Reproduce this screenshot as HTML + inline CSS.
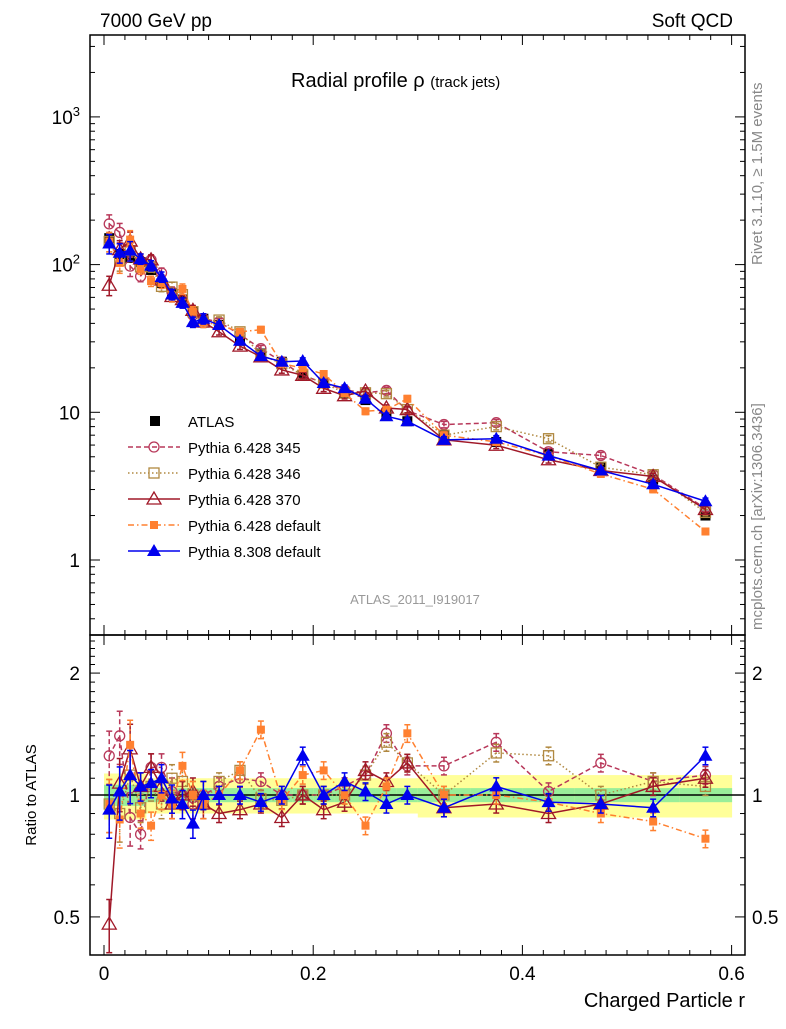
<!DOCTYPE html>
<html><head><meta charset="utf-8"><style>
body{margin:0;background:#fff;}
svg text{font-family:"Liberation Sans",sans-serif;}
</style></head><body>
<svg id="chart" width="786" height="1024" viewBox="0 0 786 1024" xmlns="http://www.w3.org/2000/svg">
<text x="100" y="27" font-size="19">7000 GeV pp</text>
<text x="733" y="27" font-size="19" text-anchor="end">Soft QCD</text>
<text x="291" y="87" font-size="20">Radial profile ρ <tspan font-size="15">(track jets)</tspan></text>
<text transform="translate(762,265) rotate(-90)" font-size="15" fill="#888">Rivet 3.1.10, ≥ 1.5M events</text>
<text transform="translate(762,630) rotate(-90)" font-size="15" fill="#888">mcplots.cern.ch [arXiv:1306.3436]</text>
<text x="415" y="604" font-size="13" fill="#999" text-anchor="middle">ATLAS_2011_I919017</text>
<text transform="translate(36,795) rotate(-90)" font-size="15" text-anchor="middle">Ratio to ATLAS</text>
<text x="745" y="1007" font-size="20" text-anchor="end">Charged Particle r</text>
<g id="g"></g>
</svg>
<script>
const xs=[0.005,0.015,0.025,0.035,0.045,0.055,0.065,0.075,0.085,0.095,0.11,0.13,0.15,0.17,0.19,0.21,0.23,0.25,0.27,0.29,0.325,0.375,0.425,0.475,0.525,0.575];
const atlas=[151,118,111,104,92,75,64,58,48,43,39,30.5,25,22,17.8,15.8,13.5,12.1,9.9,8.7,7.0,6.3,5.3,4.25,3.5,2.0];
const r345=[1.25,1.40,0.88,0.80,1.17,1.17,1.02,1.0,0.95,1.0,1.05,1.1,1.08,1.0,1.0,1.0,1.05,1.12,1.42,1.18,1.18,1.35,1.02,1.2,1.08,1.12];
const r346=[0.95,0.9,1.12,0.93,1.05,0.95,1.1,1.08,1.0,0.95,1.08,1.15,0.98,0.97,1.0,1.0,1.0,1.12,1.35,1.2,1.0,1.27,1.25,1.0,1.08,1.05];
const r370=[0.48,1.07,1.3,1.05,1.17,1.05,0.95,1.0,1.02,0.95,0.9,0.92,0.95,0.88,1.0,0.92,0.96,1.15,1.08,1.2,0.93,0.95,0.9,0.95,1.05,1.1];
const rdef6=[0.95,0.87,1.33,0.9,0.84,1.0,0.95,1.18,1.0,0.95,1.0,1.15,1.45,0.97,1.12,1.15,1.0,0.84,1.05,1.42,1.0,1.0,0.96,0.9,0.86,0.78];
const rpy8=[0.92,1.02,1.12,1.05,1.07,1.1,0.98,0.95,0.85,1.0,1.0,1.0,0.96,1.0,1.25,1.0,1.08,1.02,0.95,1.0,0.93,1.05,0.96,0.95,0.93,1.25];
const xTicks=[0,0.2,0.4,0.6];
const mainTicks=[1,10,100,1000];
const ratioTicks=[0.5,1,2];
const NS="http://www.w3.org/2000/svg";
const g=document.getElementById('g');
const L=90,R=745,T=35,MB=635,RB=955;
const X=v=>104+v*1046;
const Y=v=>560-147.7*Math.log10(v);
const YR=v=>795-405*Math.log10(v);
function el(t,a,p){const e=document.createElementNS(NS,t);for(const k in a)e.setAttribute(k,a[k]);(p||g).appendChild(e);return e;}
// bands
for(let i=0;i<xs.length;i++){
  const hw=i<10?0.005:(i<20?0.01:0.025);
  const yb=i<4?0.13:(i<20?0.1:0.12);
  const b1=el('rect',{x:X(xs[i]-hw),y:YR(1+yb),width:X(xs[i]+hw)-X(xs[i]-hw)+0.5,height:YR(1-yb)-YR(1+yb),fill:'#ffff99'});
  
  
  const gb=i<4?0.06:0.04;
  const b2=el('rect',{x:X(xs[i]-hw),y:YR(1+gb),width:X(xs[i]+hw)-X(xs[i]-hw)+0.5,height:YR(1-gb)-YR(1+gb),fill:'#99ee99'});
  
  
}
el('line',{x1:L,x2:R,y1:YR(1),y2:YR(1),stroke:'#000','stroke-width':1.5});
// frames
const f1=el('rect',{x:L,y:T,width:R-L,height:MB-T,fill:'none',stroke:'#000','stroke-width':1.5});


const f2=el('rect',{x:L,y:MB,width:R-L,height:RB-MB,fill:'none',stroke:'#000','stroke-width':1.5});


// x ticks
for(let v=0;v<=0.61;v+=0.02){
  const big=Math.abs(v*10-Math.round(v*10))<1e-6 && Math.round(v*10)%2===0;
  const len=big?10:5;
  [[MB,-1],[T,1],[RB,-1],[MB,1]].forEach(([y,d])=>el('line',{x1:X(v),x2:X(v),y1:y,y2:y+d*len,stroke:'#000'}));
}
xTicks.forEach(v=>{const t=el('text',{x:X(v),y:980,'font-size':19,'text-anchor':'middle'});t.textContent=v===0?'0':String(v);

});
// main y ticks
for(let d=-1;d<=3;d++)for(let m=1;m<10;m++){
  const v=m*Math.pow(10,d);const y=Y(v);if(y<T||y>MB)continue;
  const len=m===1?10:5;
  el('line',{x1:L,x2:L+len,y1:y,y2:y,stroke:'#000'});el('line',{x1:R,x2:R-len,y1:y,y2:y,stroke:'#000'});
}
mainTicks.forEach(v=>{const t=el('text',{x:80,y:Y(v)+7,'font-size':19,'text-anchor':'end'});
if(v>=100){t.textContent='10';const s=el('tspan',{dy:-8,'font-size':13},t);s.textContent=String(Math.log10(v));}else t.textContent=String(v);

});
// ratio ticks
for(let v=0.4;v<=2.5;v+=0.1){const y=YR(v);if(y<MB||y>RB)continue;
  const big=[0.5,1,2].some(q=>Math.abs(q-v)<1e-6);const len=big?10:5;
  el('line',{x1:L,x2:L+len,y1:y,y2:y,stroke:'#000'});el('line',{x1:R,x2:R-len,y1:y,y2:y,stroke:'#000'});}
ratioTicks.forEach(v=>{[[80,'end'],[752,'start']].forEach(([x,a])=>{const t=el('text',{x:x,y:YR(v)+7,'font-size':19,'text-anchor':a});t.textContent=String(v);

});});
// markers
function marker(p,x,y,type,c){
  const s=5;
  if(type==='fsq')return el('rect',{x:x-s,y:y-s,width:2*s,height:2*s,fill:c},p);
  if(type==='sq')return el('rect',{x:x-s,y:y-s,width:2*s,height:2*s,fill:'none',stroke:c,'stroke-width':1.3},p);
  if(type==='ci')return el('circle',{cx:x,cy:y,r:s,fill:'none',stroke:c,'stroke-width':1.3},p);
  if(type==='tri')return el('polygon',{points:`${x},${y-7} ${x-7},${y+5} ${x+7},${y+5}`,fill:'none',stroke:c,'stroke-width':1.3},p);
  if(type==='ftri')return el('polygon',{points:`${x},${y-7} ${x-7},${y+5} ${x+7},${y+5}`,fill:c},p);
  if(type==='fsm')return el('rect',{x:x-4,y:y-4,width:8,height:8,fill:c},p);
}
const series=[
 {name:'pythia-6428-345',label:'Pythia 6.428 345',r:r345,c:'#b8385a',m:'ci',dash:'5,3'},
 {name:'pythia-6428-346',label:'Pythia 6.428 346',r:r346,c:'#b08840',m:'sq',dash:'1.5,2.5'},
 {name:'pythia-6428-370',label:'Pythia 6.428 370',r:r370,c:'#a01828',m:'tri',dash:''},
 {name:'pythia-6428-default',label:'Pythia 6.428 default',r:rdef6,c:'#ff8030',m:'fsm',dash:'6,3,1.5,3'},
 {name:'pythia-8308-default',label:'Pythia 8.308 default',r:rpy8,c:'#0000ee',m:'ftri',dash:''}
];
// ATLAS main
const ga=el('g',{});


xs.forEach((x,i)=>{const m=marker(ga,X(x),Y(atlas[i]),'fsq','#000');

});
series.forEach(s=>{
  [['main',v=>Y(v),i=>atlas[i]*s.r[i]],['ratio',v=>YR(v),i=>s.r[i]]].forEach(([pane,fy,val])=>{
    const gg=el('g',{});
    
    
    const pts=xs.map((x,i)=>X(x)+','+fy(val(i))).join(' ');
    el('polyline',{points:pts,fill:'none',stroke:s.c,'stroke-width':1.5,'stroke-dasharray':s.dash},gg);
    xs.forEach((x,i)=>{
      const e=i<3?0.15:(i<10?0.08:0.05);const v=val(i);
      el('line',{x1:X(x),x2:X(x),y1:fy(v*(1+e)),y2:fy(v*(1-e)),stroke:s.c,'stroke-width':1.5,'stroke-dasharray':s.dash},gg);
      el('line',{x1:X(x)-3,x2:X(x)+3,y1:fy(v*(1+e)),y2:fy(v*(1+e)),stroke:s.c,'stroke-width':1.5},gg);
      el('line',{x1:X(x)-3,x2:X(x)+3,y1:fy(v*(1-e)),y2:fy(v*(1-e)),stroke:s.c,'stroke-width':1.5},gg);
      const m=marker(gg,X(x),fy(v),s.m,s.c);
      
      
    });
  });
});
// legend
const lg=el('g',{});


const e0=el('g',{},lg);


marker(e0,155,421,'fsq','#000');
const t0=el('text',{x:188,y:427,'font-size':15},e0);t0.textContent='ATLAS';
series.forEach((s,k)=>{const y=447+k*26;
  const e=el('g',{},lg);
  
  
  el('line',{x1:128,x2:180,y1:y,y2:y,stroke:s.c,'stroke-width':1.5,'stroke-dasharray':s.dash},e);
  marker(e,154,y,s.m,s.c);
  const t=el('text',{x:188,y:y+6,'font-size':15},e);t.textContent=s.label;});
</script>
</body></html>
